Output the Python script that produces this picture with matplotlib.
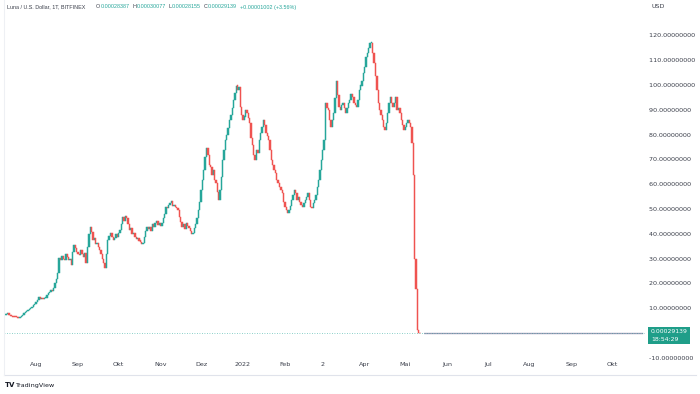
import matplotlib
matplotlib.use('Agg')
import matplotlib.pyplot as plt
import matplotlib.dates as mdates
from matplotlib.patches import Rectangle
import numpy as np
import pandas as pd

# ---------------- data ----------------
start_date = '2021-07-09'
first_open = 7.3
closes = [
    7.5, 7.8, 8.1, 7.6, 7.2, 7.0, 6.8, 6.6, 6.5, 6.4,
    6.2, 6.6, 7.1, 7.6, 8.2, 8.5, 9.0, 9.4, 9.9, 10.3,
    10.8, 11.5, 12.0, 12.8, 13.5, 14.7, 14.0, 14.5, 13.8, 14.2,
    14.3, 15.6, 16.2, 16.9, 17.5, 17.2, 18.3, 20.5, 22.0, 24.4,
    30.4, 29.5, 31.2, 30.0, 29.6, 32.0, 31.0, 29.8, 30.0, 27.6,
    33.0, 35.7, 34.5, 33.0, 32.0, 31.7, 33.5, 32.0, 31.0, 32.5,
    28.4, 35.0, 40.0, 43.0, 41.0, 37.7, 38.5, 36.0, 36.5, 35.0,
    33.7, 32.0, 30.0, 28.5, 26.4, 32.0, 37.7, 39.5, 40.5, 39.0,
    37.7, 38.5, 40.0, 39.0, 40.5, 41.7, 44.0, 47.0, 45.5, 47.5,
    46.5, 44.0, 41.7, 42.5, 40.0, 40.5, 39.0, 38.0, 38.5, 37.5,
    37.0, 36.0, 36.5, 39.0, 41.5, 43.0, 42.0, 43.0, 41.5, 44.0,
    43.0, 44.5, 45.5, 43.9, 44.5, 43.5, 44.5, 46.5, 48.0, 51.0,
    50.5, 52.0, 52.5, 53.5, 51.5, 52.0, 51.0, 50.5, 49.8, 47.0,
    45.0, 43.0, 44.0, 42.0, 44.5, 43.5, 42.5, 41.5, 40.0, 40.4,
    42.5, 44.0, 46.5, 49.8, 53.0, 58.0, 62.0, 66.0, 71.0, 75.0,
    72.0, 68.0, 67.0, 64.0, 66.0, 62.0, 60.6, 57.0, 53.8, 58.0,
    63.0, 70.0, 74.0, 78.0, 80.0, 83.0, 86.0, 88.0, 91.0, 94.0,
    97.0, 100.0, 98.0, 99.5, 91.5, 88.0, 86.0, 87.5, 90.0, 89.0,
    87.0, 85.0, 79.0, 76.0, 72.0, 70.0, 74.0, 72.7, 78.0, 81.0,
    83.4, 86.0, 84.0, 80.8, 79.5, 78.0, 74.0, 70.0, 68.0, 66.0,
    64.6, 62.0, 60.6, 59.0, 58.0, 56.5, 53.0, 51.0, 50.0, 48.5,
    49.8, 51.5, 53.8, 56.0, 57.8, 56.5, 54.0, 55.0, 53.0, 52.0,
    51.0, 52.5, 53.8, 55.0, 56.5, 54.0, 51.0, 50.5, 52.6,
    54.0, 56.0, 59.0, 62.0, 66.0, 70.0, 74.0, 78.0, 93.0, 91.0,
    90.0, 86.0, 83.4, 86.0, 89.0, 95.0, 102.0, 96.0, 91.5, 90.0,
    92.0, 93.0, 91.0, 89.0, 91.0, 93.0, 94.0, 96.5, 95.5, 93.0,
    92.0, 91.5, 94.0, 98.0, 100.0, 102.0, 105.0, 107.5, 111.6, 113.0,
    115.0, 117.0, 117.0, 113.0, 109.0, 104.0, 98.0, 93.0, 90.0, 88.0,
    86.0, 83.4, 82.0, 85.0, 89.0, 93.0, 95.5, 93.0, 91.5,
    93.0, 95.5, 90.0, 91.0, 89.0, 86.0, 84.0, 82.0, 83.4, 85.0,
    86.0, 85.0, 83.4, 77.0, 64.0, 30.0, 18.0, 1.4, 0.01, 0.0002,
]
post_dates = ['2022-05-15', '2022-06-01', '2022-07-01', '2022-08-01',
              '2022-09-01', '2022-10-01', '2022-10-24']
post_closes = [0.00018, 0.00016, 0.00011, 0.00014, 0.00028, 0.00027, 0.00029139]

month_dates = ['2021-08-01', '2021-09-01', '2021-10-01', '2021-11-01', '2021-12-01',
               '2022-01-01', '2022-02-01', '2022-03-01', '2022-04-01', '2022-05-01',
               '2022-06-01', '2022-07-01', '2022-08-01', '2022-09-01', '2022-10-01']
month_labels = ['Aug', 'Sep', 'Okt', 'Nov', 'Dez', '2022', 'Feb', '2', 'Apr', 'Mai',
                'Jun', 'Jul', 'Aug', 'Sep', 'Okt']
price_ticks = [-10, 10, 20, 30, 40, 50, 60, 70, 80, 90, 100, 110, 120]

last_price = '0.00029139'
countdown = '18:54:29'
header_title = 'Luna / U.S. Dollar, 1T, BITFINEX'
header_items = [('O', '0.00028387'), ('H', '0.00030077'), ('L', '0.00028155'),
                ('C', '0.00029139')]
header_change = '+0.00001002 (+3.56%)'

# ---------------- styling ----------------
UP = '#26a69a'
DOWN = '#ef5350'
TEXT = '#3a3e4a'
W, H = 700, 394

plt.rcParams['font.family'] = ['DejaVu Sans']
fig = plt.figure(figsize=(7, 3.94), dpi=100)
fig.patch.set_facecolor('white')

def fx(px):
    return px / W

def fy(py):
    return 1 - py / H

ax_left, ax_right, ax_top, ax_bot = 4, 645, 14, 362
ax = fig.add_axes([fx(ax_left), fy(ax_bot), fx(ax_right - ax_left), (ax_bot - ax_top) / H])
ax.set_facecolor('white')

dates = pd.date_range(start_date, periods=len(closes), freq='D')
xd = mdates.date2num(dates.to_pydatetime())
c = np.array(closes)
o = np.concatenate([[first_open], c[:-1]])
lo = np.minimum(o, c)
hi = np.maximum(o, c)
col = [UP if cc >= oo else DOWN for oo, cc in zip(o, c)]
ax.bar(xd, np.maximum(hi - lo, 0.4), bottom=lo, width=1.0, color=col,
       edgecolor=col, linewidth=0.35, align='center')

pdx = mdates.date2num(pd.to_datetime(post_dates).to_pydatetime())
ax.plot(pdx, post_closes, color='#a39cb8', lw=1.0, solid_capstyle='butt')

# dotted last price line
ax.axhline(float(last_price), color=UP, lw=0.6, ls=(0, (1, 2)), alpha=0.7)

jan1 = mdates.date2num(pd.Timestamp('2022-01-01').to_pydatetime())
ppd = 1.352
ax.set_xlim(jan1 + (ax_left - 243) / ppd, jan1 + (ax_right - 243) / ppd)
ax.set_ylim((333.5 - ax_bot) / 2.48, (333.5 - ax_top) / 2.48)

for s in ax.spines.values():
    s.set_visible(False)
ax.set_xticks([])
ax.set_yticks([])

# time axis labels
for d, lab in zip(month_dates, month_labels):
    xdn = mdates.date2num(pd.Timestamp(d).to_pydatetime())
    ax.text(xdn, -0.0, lab, transform=ax.get_xaxis_transform(), ha='center',
            va='top', fontsize=4.6, color=TEXT)

# price axis labels
for p in price_ticks:
    ax.text(1.0, p, f'  {p:.8f}', transform=ax.get_yaxis_transform(), ha='left',
            va='center', fontsize=4.6, color=TEXT)
fig.text(fx(652), fy(7), 'USD', ha='left', va='center', fontsize=4.6, color=TEXT)

# last price box
fig.patches.append(Rectangle((fx(648), fy(344)), fx(42), 17 / H, transform=fig.transFigure,
                             facecolor='#1f9e89', edgecolor='none'))
fig.text(fx(651), fy(331.5), last_price, ha='left', va='center', fontsize=4.4, color='white')
fig.text(fx(651), fy(339.5), countdown, ha='left', va='center', fontsize=4.4, color='white')

# header, laid out sequentially so pieces never overlap
HFS = 3.9
HFONT = ['Liberation Sans', 'DejaVu Sans']
renderer = fig.canvas.get_renderer()
fig.text(fx(7), fy(7), header_title, ha='left', va='center', fontsize=HFS, color=TEXT,
         family=HFONT)
cur = 95.7
pieces = []
for k, v in header_items:
    pieces.append((k, TEXT, 0.6))
    pieces.append((v, UP, 2.6))
pieces.append((header_change, UP, 0))
for txt, colr, gap in pieces:
    t = fig.text(fx(cur), fy(7), txt, ha='left', va='center', fontsize=HFS, color=colr,
                 family=HFONT)
    bb = t.get_window_extent(renderer=renderer)
    cur += bb.width + gap

# border
fig.add_artist(plt.Line2D([fx(4), fx(696)], [fy(375), fy(375)], transform=fig.transFigure,
                          color='#e0e3eb', lw=0.8))
fig.add_artist(plt.Line2D([fx(4), fx(4)], [fy(0), fy(375)], transform=fig.transFigure,
                          color='#eef0f4', lw=0.8))

# footer
fig.text(fx(5), fy(385), 'TV', ha='left', va='center', fontsize=5, color='#131722',
         fontweight='bold')
fig.text(fx(15), fy(385), 'TradingView', ha='left', va='center', fontsize=4.6, color='#131722')

fig.savefig('out.png', dpi=100, facecolor='white')
